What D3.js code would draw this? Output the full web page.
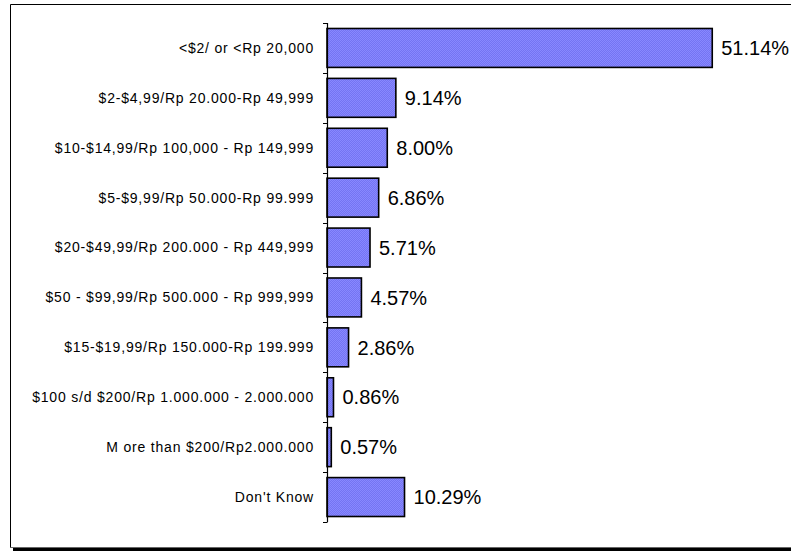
<!DOCTYPE html>
<html>
<head>
<meta charset="utf-8">
<script src="https://cdn.jsdelivr.net/npm/d3@7/dist/d3.min.js"></script>
<style>
  html, body { margin: 0; padding: 0; background: #fff; }
  svg { display: block; }
</style>
</head>
<body>
<svg id="chart" width="791" height="551"></svg>
<script>
// Income categories (top to bottom) and their shares in percent
const categories = [
  "<$2/ or <Rp 20,000",
  "$2-$4,99/Rp 20.000-Rp 49,999",
  "$10-$14,99/Rp 100,000 - Rp 149,999",
  "$5-$9,99/Rp 50.000-Rp 99.999",
  "$20-$49,99/Rp 200.000 - Rp 449,999",
  "$50 - $99,99/Rp 500.000 - Rp 999,999",
  "$15-$19,99/Rp 150.000-Rp 199.999",
  "$100 s/d $200/Rp 1.000.000 - 2.000.000",
  "M ore than $200/Rp2.000.000",
  "Don't Know"
];
const values = [51.14, 9.14, 8.00, 6.86, 5.71, 4.57, 2.86, 0.86, 0.57, 10.29];
const valueLabels = ["51.14%", "9.14%", "8.00%", "6.86%", "5.71%", "4.57%", "2.86%", "0.86%", "0.57%", "10.29%"];

const svg = d3.select("#chart");
const font = "Liberation Sans, Arial, sans-serif";

// Outer frame with drop shadow along the bottom
svg.append("rect").attr("x", 13).attr("y", 548).attr("width", 778).attr("height", 3).attr("fill", "#000");
svg.append("line").attr("x1", 10.5).attr("x2", 791).attr("y1", 547.5).attr("y2", 547.5).attr("stroke", "#666").attr("stroke-width", 1);
svg.append("line").attr("x1", 10.5).attr("x2", 10.5).attr("y1", 4.5).attr("y2", 547.5).attr("stroke", "#000").attr("stroke-width", 1);
svg.append("line").attr("x1", 10.5).attr("x2", 791).attr("y1", 4.5).attr("y2", 4.5).attr("stroke", "#000").attr("stroke-width", 1);

// Fine hatched blue fill
const defs = svg.append("defs");
const pat = defs.append("pattern")
  .attr("id", "hatch")
  .attr("patternUnits", "userSpaceOnUse")
  .attr("width", 2).attr("height", 2);
pat.append("rect").attr("width", 2).attr("height", 2).attr("fill", "#8888ff");
pat.append("path").attr("d", "M-0.5,0.5 L0.5,-0.5 M0,2 L2,0 M1.5,2.5 L2.5,1.5")
  .attr("stroke", "#6c6cec").attr("stroke-width", 0.7);

const x0 = 327;
const x = d3.scaleLinear().domain([0, 60]).range([x0, 779]);
const y = d3.scaleBand().domain(categories).range([23, 522]).paddingInner(0.22).paddingOuter(0.11);

// Bars
svg.append("g").selectAll("rect")
  .data(values)
  .join("rect")
  .attr("x", x(0))
  .attr("y", (d, i) => y(categories[i]))
  .attr("width", d => x(d) - x(0))
  .attr("height", y.bandwidth())
  .attr("fill", "url(#hatch)")
  .attr("stroke", "#000")
  .attr("stroke-width", 1.6);

// Category axis with ticks at band boundaries
const tickPos = d3.range(categories.length + 1).map(i => 23 + i * (499 / categories.length));
const axisG = svg.append("g");
axisG.append("line").attr("x1", x0 + 0.5).attr("x2", x0 + 0.5).attr("y1", 23).attr("y2", 522)
  .attr("stroke", "#000").attr("stroke-width", 1.2);
axisG.selectAll("line.tick").data(tickPos).join("line")
  .attr("class", "tick")
  .attr("x1", x0 - 4).attr("x2", x0 + 0.5)
  .attr("y1", d => Math.round(d) + 0.5).attr("y2", d => Math.round(d) + 0.5)
  .attr("stroke", "#000").attr("stroke-width", 1);

// Category labels
svg.append("g").selectAll("text")
  .data(categories)
  .join("text")
  .attr("x", 314)
  .attr("y", d => y(d) + y.bandwidth() / 2)
  .attr("dy", "0.35em")
  .attr("text-anchor", "end")
  .attr("font-family", font)
  .attr("font-size", 14)
  .attr("letter-spacing", 0.8)
  .attr("fill", "#000")
  .text(d => d);

// Value labels
svg.append("g").selectAll("text")
  .data(values)
  .join("text")
  .attr("x", d => x(d) + 9)
  .attr("y", (d, i) => y(categories[i]) + y.bandwidth() / 2)
  .attr("dy", "0.36em")
  .attr("font-family", font)
  .attr("font-size", 20)
  .attr("fill", "#000")
  .text((d, i) => valueLabels[i]);
</script>
</body>
</html>
